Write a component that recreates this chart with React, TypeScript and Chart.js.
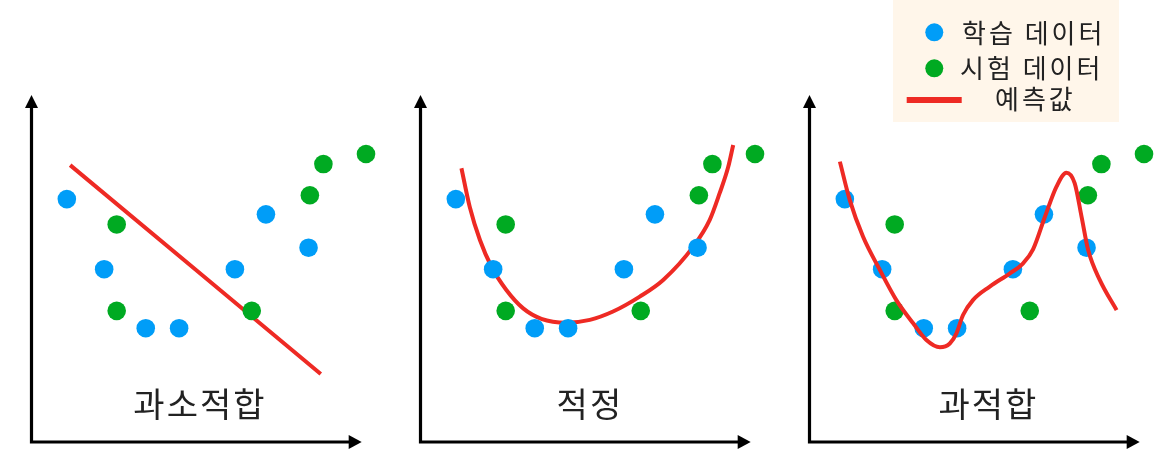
import { useEffect, useRef } from 'react';
import { Chart, registerables } from 'chart.js';
Chart.register(...registerables);

// Shared data (axis units 0..10)
const blueX = [1.07, 2.2, 3.46, 4.47, 6.16, 7.1, 8.39];
const blueY = [7.0, 4.98, 3.28, 3.28, 4.98, 6.56, 5.6];
const greenX = [2.58, 2.58, 6.67, 8.43, 8.84, 10.13];
const greenY = [6.27, 3.78, 3.78, 7.11, 8.01, 8.3];

// Prediction lines
const underX = [1.17, 8.76];
const underY = [7.98, 1.96];
const goodX = [1.24, 1.49, 1.8, 2.15, 2.6, 3.11, 3.66, 4.42, 5.13, 5.83, 6.64, 7.35, 8.26, 8.76, 9.06, 9.32, 9.47];
const goodY = [7.89, 6.78, 5.82, 5.05, 4.38, 3.85, 3.55, 3.44, 3.52, 3.76, 4.19, 4.67, 5.63, 6.4, 7.17, 7.93, 8.56];
const overX = [0.92, 1.22, 1.62, 2.13, 2.63, 3.14, 3.54, 3.95, 4.25, 4.45, 4.65, 4.95, 5.46, 6.07, 6.47, 6.77, 7.13, 7.48, 7.78, 8.03, 8.24, 8.44, 8.79, 9.3];
const overY = [8.08, 6.97, 5.92, 4.96, 4.09, 3.42, 2.94, 2.73, 2.84, 3.13, 3.66, 4.09, 4.48, 4.86, 5.15, 5.55, 6.49, 7.36, 7.76, 7.46, 6.49, 5.53, 4.67, 3.8];

const panelTitles = ['과소적합', '적정', '과적합'];
const titleXs = [5.07, 5.1, 5.39];
const titleY = 1.1;
const legendLabels = ['학습 데이터', '시험 데이터', '예측값'];

const lineXs = [underX, goodX, overX];
const lineYs = [underY, goodY, overY];

const PANEL_LEFT = [0, 389, 778];
const BLUE = '#009DF8';
const GREEN = '#00AA22';
const RED = '#EE2A24';
const FONT = '"Noto Sans CJK KR", "Noto Sans", sans-serif';

const zip = (xs: number[], ys: number[]) => xs.map((x, i) => ({ x, y: ys[i] }));

function makeAxesPlugin(index: number) {
  return {
    id: 'axesAndTitle' + index,
    beforeDatasetsDraw(chart: any) {
      const { ctx, chartArea } = chart;
      const { left, right, top, bottom } = chartArea;
      ctx.save();
      ctx.strokeStyle = '#000';
      ctx.fillStyle = '#000';
      ctx.lineWidth = 3.2;
      ctx.beginPath();
      ctx.moveTo(left, bottom + 1.6);
      ctx.lineTo(left, top + 10);
      ctx.moveTo(left - 1.6, bottom);
      ctx.lineTo(right - 10, bottom);
      ctx.stroke();
      ctx.beginPath();
      ctx.moveTo(left, top);
      ctx.lineTo(left - 6.5, top + 13);
      ctx.lineTo(left + 6.5, top + 13);
      ctx.closePath();
      ctx.fill();
      ctx.beginPath();
      ctx.moveTo(right, bottom);
      ctx.lineTo(right - 13, bottom - 7);
      ctx.lineTo(right - 13, bottom + 7);
      ctx.closePath();
      ctx.fill();
      ctx.restore();
    },
    afterDatasetsDraw(chart: any) {
      const { ctx, scales } = chart;
      ctx.save();
      ctx.fillStyle = '#222';
      ctx.font = `34px ${FONT}`;
      (ctx as any).letterSpacing = '2px';
      ctx.textAlign = 'center';
      ctx.textBaseline = 'middle';
      ctx.fillText(panelTitles[index], scales.x.getPixelForValue(titleXs[index]) + 1, scales.y.getPixelForValue(titleY));
      ctx.restore();
    },
  };
}

const legendPlugin = {
  id: 'customLegend',
  afterDraw(chart: any) {
    const { ctx } = chart;
    const ox = 893 - PANEL_LEFT[2];
    ctx.save();
    ctx.fillStyle = '#FFF6EA';
    ctx.fillRect(ox, 0, 226, 122);
    ctx.fillStyle = BLUE;
    ctx.beginPath();
    ctx.arc(ox + 41.3, 32.3, 9, 0, Math.PI * 2);
    ctx.fill();
    ctx.fillStyle = GREEN;
    ctx.beginPath();
    ctx.arc(ox + 41.3, 68.3, 9, 0, Math.PI * 2);
    ctx.fill();
    ctx.fillStyle = RED;
    ctx.fillRect(ox + 13.7, 97, 55, 6);
    ctx.fillStyle = '#222';
    ctx.font = `26px ${FONT}`;
    (ctx as any).letterSpacing = '3px';
    ctx.textAlign = 'left';
    ctx.textBaseline = 'middle';
    ctx.fillText(legendLabels[0], ox + 69, 33);
    ctx.fillText(legendLabels[1], ox + 67, 68);
    ctx.fillText(legendLabels[2], ox + 102, 99);
    ctx.restore();
  },
};

function Panel({ index }: { index: number }) {
  const ref = useRef<HTMLCanvasElement>(null);
  useEffect(() => {
    const pointsBlue = {
      label: legendLabels[0],
      data: zip(blueX, blueY),
      backgroundColor: BLUE,
      borderWidth: 0,
      pointRadius: 9.3,
      showLine: false,
      clip: false as any,
    };
    const pointsGreen = {
      label: legendLabels[1],
      data: zip(greenX, greenY),
      backgroundColor: GREEN,
      borderWidth: 0,
      pointRadius: 9.3,
      showLine: false,
      clip: false as any,
    };
    const line = {
      label: legendLabels[2],
      data: zip(lineXs[index], lineYs[index]),
      borderColor: RED,
      borderWidth: 4,
      pointRadius: 0,
      showLine: true,
      tension: 0.4,
      cubicInterpolationMode: index === 0 ? 'default' : 'monotone',
      borderCapStyle: 'butt' as any,
      clip: false as any,
    };
    const datasets = index === 2 ? [line, pointsBlue, pointsGreen] : [pointsBlue, pointsGreen, line];
    const plugins: any[] = [makeAxesPlugin(index)];
    if (index === 2) plugins.push(legendPlugin);
    const chart = new Chart(ref.current as HTMLCanvasElement, {
      type: 'scatter',
      data: { datasets: datasets as any },
      options: {
        responsive: false,
        animation: false,
        events: [],
        layout: { padding: { left: 31.5, top: 95, right: 28.3, bottom: 22 } },
        plugins: { legend: { display: false }, tooltip: { enabled: false } },
        scales: {
          x: { type: 'linear', min: 0, max: 10, display: false },
          y: { type: 'linear', min: 0, max: 10, display: false },
        },
      },
      plugins,
    });
    return () => chart.destroy();
  }, [index]);
  return (
    <canvas
      ref={ref}
      width={390}
      height={464}
      style={{ position: 'absolute', left: PANEL_LEFT[index], top: 0, width: 390, height: 464 }}
    />
  );
}

export default function App() {
  return (
    <div style={{ position: 'absolute', left: 0, top: 0, width: 1174, height: 464, background: '#fff', overflow: 'hidden' }}>
      {[0, 1, 2].map((i) => (
        <Panel key={i} index={i} />
      ))}
    </div>
  );
}
